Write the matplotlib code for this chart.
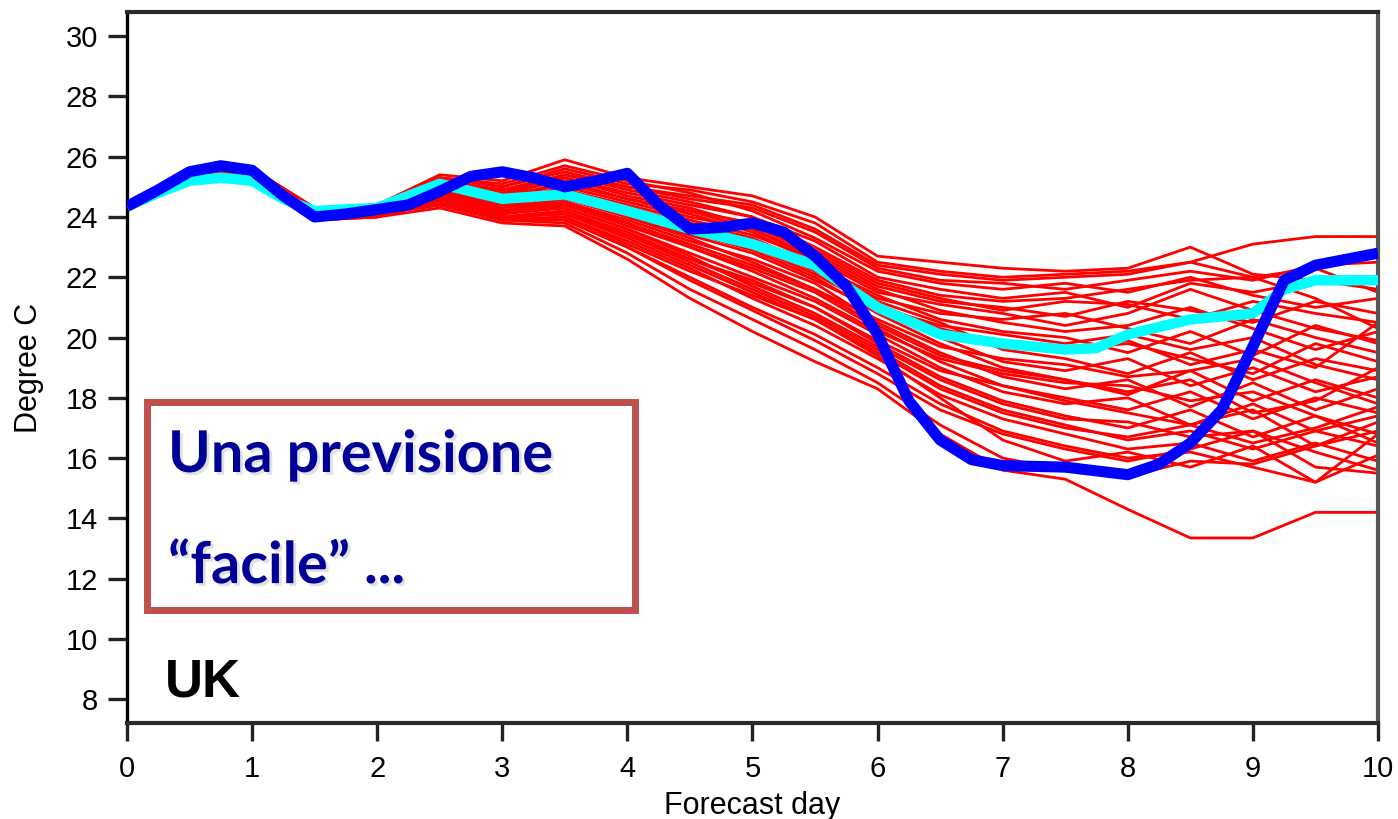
import numpy as np
import matplotlib
matplotlib.use("Agg")
import matplotlib.pyplot as plt
import matplotlib.patheffects as pe
from matplotlib.patches import Rectangle

# dias de prevision (cada 12 h) para los miembros del ensemble
dias = np.arange(0, 10.5, 0.5)

# miembros del ensemble (rojo)
miembros = [
    [24.4, 25.5, 25.6, 24.3, 24.4, 25.4, 25.2, 25.9, 25.3, 25.0, 24.7, 24.0, 22.7, 22.5, 22.3, 22.2, 22.3, 23.0, 22.1, 21.9, 22.0],
    [24.4, 25.4, 25.5, 24.2, 24.3, 25.3, 25.0, 25.6, 25.1, 24.9, 24.5, 23.8, 22.5, 22.2, 22.0, 22.1, 22.2, 22.5, 23.1, 23.35, 23.35],
    [24.4, 25.3, 25.4, 24.1, 24.2, 25.1, 24.8, 25.4, 25.0, 24.6, 24.3, 23.5, 22.3, 21.9, 21.8, 21.6, 21.9, 22.2, 21.9, 22.4, 22.5],
    [24.4, 25.4, 25.6, 24.3, 24.3, 25.2, 24.9, 25.3, 24.8, 24.4, 24.0, 23.2, 22.0, 21.6, 21.3, 21.5, 21.0, 21.8, 21.5, 21.9, 21.6],
    [24.4, 25.2, 25.3, 24.0, 24.1, 24.9, 24.6, 25.1, 24.6, 24.2, 23.8, 22.9, 21.8, 21.3, 20.9, 21.2, 21.1, 20.6, 21.2, 20.8, 20.5],
    [24.4, 25.3, 25.5, 24.2, 24.2, 25.0, 24.5, 25.0, 24.5, 24.0, 23.6, 22.7, 21.6, 20.9, 20.5, 20.2, 20.4, 21.0, 20.3, 19.6, 20.2],
    [24.4, 25.4, 25.4, 24.1, 24.3, 24.8, 24.3, 24.8, 24.3, 23.8, 23.3, 22.4, 21.4, 20.6, 20.2, 20.0, 19.5, 20.2, 19.4, 20.4, 19.8],
    [24.4, 25.2, 25.3, 23.9, 24.0, 24.7, 24.2, 24.6, 24.2, 23.6, 23.1, 22.2, 21.1, 20.3, 19.8, 19.5, 19.9, 19.1, 19.6, 19.0, 20.5],
    [24.4, 25.3, 25.5, 24.2, 24.2, 24.9, 24.6, 24.9, 24.4, 23.9, 23.4, 22.6, 21.2, 20.5, 19.6, 19.3, 18.8, 19.5, 18.6, 19.3, 18.9],
    [24.4, 25.4, 25.6, 24.3, 24.4, 25.2, 24.8, 25.2, 24.6, 24.1, 23.5, 22.5, 21.0, 20.0, 19.2, 18.9, 19.3, 18.4, 19.0, 18.2, 18.7],
    [24.4, 25.3, 25.4, 24.1, 24.2, 24.9, 24.4, 24.7, 24.1, 23.5, 22.9, 22.0, 20.8, 19.8, 19.0, 18.6, 18.1, 18.9, 17.9, 18.6, 18.0],
    [24.4, 25.2, 25.3, 24.0, 24.1, 24.6, 24.1, 24.5, 23.9, 23.2, 22.6, 21.8, 20.5, 19.5, 18.7, 18.3, 18.6, 17.7, 18.5, 17.6, 18.3],
    [24.4, 25.3, 25.4, 24.1, 24.2, 24.8, 24.2, 24.4, 23.7, 23.0, 22.3, 21.5, 20.3, 19.2, 18.4, 18.0, 17.6, 18.2, 17.3, 18.0, 17.5],
    [24.4, 25.4, 25.5, 24.2, 24.3, 24.7, 24.1, 24.3, 23.6, 22.8, 22.0, 21.2, 20.1, 19.0, 18.2, 17.8, 18.0, 17.1, 17.8, 16.9, 17.4],
    [24.4, 25.2, 25.3, 23.9, 24.0, 24.5, 24.0, 24.2, 23.5, 22.6, 21.8, 21.0, 19.8, 18.7, 17.9, 17.4, 17.0, 17.6, 16.7, 17.4, 16.8],
    [24.4, 25.3, 25.4, 24.0, 24.1, 24.6, 24.0, 24.1, 23.4, 22.5, 21.6, 20.7, 19.6, 18.4, 17.6, 17.1, 16.6, 16.9, 16.3, 16.9, 16.4],
    [24.4, 25.3, 25.5, 24.1, 24.2, 24.5, 23.9, 24.0, 23.2, 22.3, 21.3, 20.4, 19.3, 18.1, 17.3, 16.8, 16.3, 16.5, 15.9, 16.5, 15.9],
    [24.4, 25.2, 25.3, 24.0, 24.1, 24.4, 23.9, 23.9, 23.0, 22.0, 21.0, 20.1, 19.0, 17.8, 16.9, 16.4, 16.0, 16.2, 15.7, 15.2, 16.1],
    [24.4, 25.3, 25.4, 24.0, 24.1, 24.4, 23.9, 23.8, 22.8, 21.6, 20.6, 19.6, 18.5, 17.1, 16.0, 15.6, 15.4, 15.9, 15.8, 16.4, 17.2],
    [24.4, 25.2, 25.3, 23.9, 24.0, 24.3, 23.8, 23.7, 22.6, 21.3, 20.2, 19.2, 18.3, 16.8, 15.6, 15.3, 14.3, 13.35, 13.35, 14.2, 14.2],
    [24.4, 25.5, 25.6, 24.2, 24.3, 25.3, 25.1, 25.7, 25.2, 24.8, 24.2, 23.3, 22.2, 21.8, 21.6, 21.8, 21.5, 22.0, 21.4, 21.0, 21.3],
    [24.4, 25.4, 25.5, 24.1, 24.2, 25.0, 24.7, 25.3, 24.7, 24.3, 23.7, 22.8, 21.7, 21.2, 21.0, 20.7, 21.2, 20.9, 20.5, 21.2, 20.8],
    [24.4, 25.3, 25.4, 24.2, 24.3, 24.9, 24.5, 24.9, 24.3, 23.7, 23.1, 22.3, 21.3, 20.8, 20.6, 20.8, 20.3, 19.8, 20.6, 20.0, 19.5],
    [24.4, 25.3, 25.5, 24.1, 24.2, 24.7, 24.3, 24.6, 24.0, 23.4, 22.8, 21.9, 20.9, 20.2, 19.9, 19.6, 19.8, 19.3, 18.8, 19.8, 19.2],
    [24.4, 25.2, 25.4, 24.0, 24.1, 24.6, 24.1, 24.4, 23.8, 23.1, 22.4, 21.6, 20.6, 19.7, 19.3, 19.1, 18.7, 18.9, 19.3, 18.5, 17.8],
    [24.4, 25.4, 25.5, 24.2, 24.2, 24.8, 24.4, 24.7, 24.0, 23.3, 22.5, 21.6, 20.4, 19.4, 18.9, 18.6, 18.2, 18.6, 17.5, 17.9, 19.0],
    [24.4, 25.3, 25.4, 24.1, 24.2, 24.5, 24.0, 24.2, 23.4, 22.6, 21.9, 21.0, 19.9, 18.9, 18.4, 17.9, 17.5, 17.1, 17.6, 16.4, 16.9],
    [24.4, 25.2, 25.3, 24.0, 24.1, 24.4, 23.9, 24.0, 23.1, 22.2, 21.4, 20.6, 19.5, 18.3, 17.5, 17.0, 16.7, 17.1, 16.5, 17.0, 17.7],
    [24.4, 25.3, 25.4, 24.1, 24.1, 24.5, 24.0, 23.9, 23.0, 21.9, 20.9, 19.9, 18.8, 17.6, 16.8, 16.3, 15.9, 16.3, 16.9, 15.7, 15.5],
    [24.4, 25.4, 25.5, 24.2, 24.3, 25.2, 24.9, 25.4, 24.9, 24.5, 24.0, 23.0, 21.9, 21.4, 21.2, 21.3, 21.6, 21.9, 22.0, 21.3, 20.3],
    [24.4, 25.3, 25.5, 24.1, 24.3, 25.1, 24.7, 25.1, 24.6, 24.2, 23.6, 22.6, 21.5, 21.1, 20.8, 20.4, 20.8, 21.6, 20.9, 20.3, 19.9],
    [24.4, 25.4, 25.6, 24.2, 24.3, 25.3, 25.0, 25.5, 25.0, 24.7, 24.4, 23.6, 22.4, 22.1, 21.9, 22.0, 22.1, 22.5, 22.0, 22.3, 21.5],
    [24.4, 25.3, 25.4, 24.1, 24.2, 24.9, 24.5, 24.8, 24.2, 23.6, 23.0, 22.1, 21.0, 20.4, 20.1, 19.8, 20.1, 19.6, 20.0, 19.1, 18.6],
    [24.4, 25.2, 25.3, 24.0, 24.1, 24.6, 24.2, 24.5, 23.8, 23.0, 22.2, 21.3, 20.2, 19.3, 18.8, 18.5, 18.4, 17.9, 18.2, 17.4, 16.5],
    [24.4, 25.3, 25.4, 24.1, 24.2, 24.7, 24.2, 24.3, 23.6, 22.7, 21.7, 20.8, 19.7, 18.6, 17.8, 17.3, 17.2, 16.7, 16.9, 16.2, 15.6],
    [24.4, 25.2, 25.4, 24.0, 24.1, 24.5, 24.0, 24.1, 23.3, 22.4, 21.5, 20.6, 19.4, 18.0, 16.6, 15.9, 16.2, 15.7, 16.4, 15.2, 16.8],
]

# control / media (cian)
dias_cian = [0, 0.25, 0.5, 0.75, 1, 1.25, 1.5, 2, 2.5, 3, 3.5, 4, 4.5, 5, 5.5, 6, 6.5, 7, 7.5, 7.75, 8, 8.5, 9, 9.25, 9.5, 10]
temp_cian = [24.35, 24.8, 25.2, 25.3, 25.2, 24.6, 24.2, 24.3, 25.1, 24.6, 24.75, 24.2, 23.6, 23.1, 22.4, 21.0, 20.1, 19.8, 19.6, 19.65, 20.1, 20.6, 20.8, 21.6, 21.9, 21.9]

# deterministica (azul)
dias_azul = [0, 0.25, 0.5, 0.75, 1, 1.25, 1.5, 1.75, 2, 2.25, 2.5, 2.75, 3, 3.25, 3.5, 3.75, 4, 4.25, 4.5, 4.75, 5,
             5.25, 5.5, 5.75, 6, 6.25, 6.5, 6.75, 7, 7.5, 8, 8.25, 8.5, 8.75, 9, 9.25, 9.5, 9.75, 10]
temp_azul = [24.35, 24.9, 25.5, 25.7, 25.55, 24.7, 24.0, 24.1, 24.25, 24.4, 24.85, 25.35, 25.5, 25.3, 25.0, 25.2, 25.45, 24.4, 23.6, 23.65, 23.8,
             23.5, 22.7, 21.7, 20.1, 17.9, 16.6, 15.95, 15.75, 15.7, 15.45, 15.8, 16.5, 17.6, 19.7, 21.9, 22.4, 22.6, 22.8]

yticks = list(range(8, 31, 2))
xticks = list(range(0, 11))

fig = plt.figure(figsize=(13.98, 8.19), dpi=100)
ax = fig.add_axes([0.0908, 0.1172, 0.8949, 0.8681])

for m in miembros:
    ax.plot(dias, m, color='#ff0000', lw=2.0, zorder=2)
ax.plot(dias_cian, temp_cian, color='#00ffff', lw=7.5, zorder=3,
        solid_capstyle='butt', solid_joinstyle='round')
ax.plot(dias_azul, temp_azul, color='#0000ff', lw=8, zorder=4,
        solid_capstyle='butt', solid_joinstyle='round')

ax.set_xlim(0, 10)
ax.set_ylim(7.21, 30.8)
ax.set_xticks(xticks)
ax.set_yticks(yticks)
ax.tick_params(axis='both', direction='out', width=2.4, color='#222222',
               labelsize=21, labelcolor='black')
ax.tick_params(axis='y', length=14, pad=7)
ax.tick_params(axis='x', length=13, pad=10)
for lab in ax.get_xticklabels() + ax.get_yticklabels():
    lab.set_family('Liberation Sans')

ax.spines['left'].set_linewidth(2.4)
ax.spines['left'].set_color('black')
ax.spines['bottom'].set_linewidth(3)
ax.spines['bottom'].set_color('#2a2a2a')
ax.spines['top'].set_linewidth(3)
ax.spines['top'].set_color('#2a2a2a')
ax.spines['right'].set_linewidth(3)
ax.spines['right'].set_color('#555555')

ax.set_xlabel('Forecast day', fontsize=22, family='Liberation Sans')
ax.xaxis.set_label_coords(0.5, -0.095)
ax.set_ylabel('Degree C', fontsize=22, family='Liberation Sans')
ax.yaxis.set_label_coords(-0.066, 0.5)

# recuadro con el texto
fig.add_artist(Rectangle((0.1055, 0.2546), 0.3484, 0.254, transform=fig.transFigure,
                         fill=False, edgecolor='#c0504d', lw=5, zorder=10))
sombra = [pe.withSimplePatchShadow(offset=(2, -2), shadow_rgbFace='#888888', alpha=0.25)]
fig.text(0.1202, 0.4237, 'Una previsione', fontsize=41.5, fontweight='bold', family='Lato',
         color='#000099', va='baseline', ha='left', path_effects=sombra)
fig.text(0.1202, 0.288, '\u201cfacile\u201d ...', fontsize=41.5, fontweight='bold', family='Lato',
         color='#000099', va='baseline', ha='left', path_effects=sombra)

fig.text(0.118, 0.149, 'UK', fontsize=38, fontweight='bold', family='Liberation Sans',
         color='black', va='baseline', ha='left')

fig.savefig('out.png', dpi=100)
